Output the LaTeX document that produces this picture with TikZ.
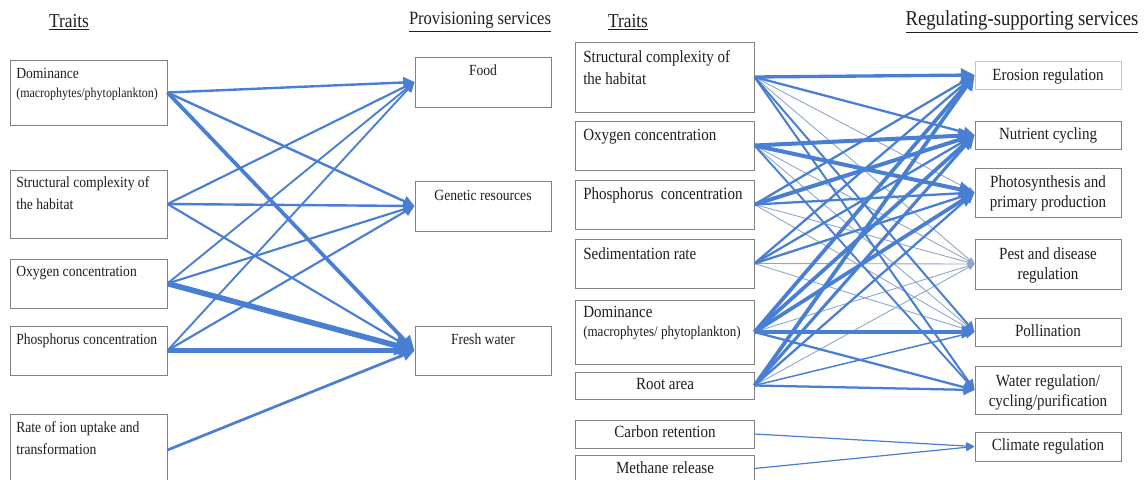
\documentclass[tikz,border=0pt]{standalone}
\usepackage{fontspec}
\setmainfont{Liberation Serif}[FakeStretch=0.88]
\usetikzlibrary{arrows.meta,fit}
\definecolor{lb}{RGB}{72,127,210}
\definecolor{lbthin}{RGB}{140,165,202}
\definecolor{boxgray}{RGB}{130,130,130}
\definecolor{lightbox}{RGB}{185,200,220}
\definecolor{txtc}{RGB}{30,30,30}
\tikzset{
  box/.style={draw=boxgray, line width=0.7pt, inner sep=0pt},
  lt/.style={anchor=north west, align=left, inner sep=0pt, text=txtc, font=\fontsize{11.6}{16.5}\selectfont},
  lsm/.style={anchor=north west, inner sep=0pt, text=txtc, font=\fontsize{10.2}{10}\selectfont},
  ct/.style={anchor=north, align=center, inner sep=0pt, text=txtc, font=\fontsize{11.6}{15}\selectfont},
  rlt/.style={anchor=north west, align=left, inner sep=0pt, text=txtc, font=\fontsize{12.8}{16.5}\selectfont},
  rsm/.style={anchor=north west, inner sep=0pt, text=txtc, font=\fontsize{11.1}{11}\selectfont},
  rct/.style={anchor=north, align=center, inner sep=0pt, text=txtc, font=\fontsize{12.8}{15}\selectfont},
  ttl/.style={inner sep=0pt, text=txtc},
  cn/.style={draw=lb, line width=#1, -{Triangle[length=4pt 2.5, width=3.5pt 2.5]}},
  th/.style={draw=lbthin, line width=0.65pt, -{Triangle[length=5pt, width=4.5pt]}},
}
\begin{document}
\begin{tikzpicture}[x=0.75pt,y=-0.75pt]
\useasboundingbox (0,0) rectangle (1146,479);
\clip (0,0) rectangle (1146,479);
\fill[white] (0,0) rectangle (1146,479);

% titles
\node[ttl, font=\fontsize{14.8}{17}\selectfont] (tA) at (69,22) {\underline{Traits}};
\node[ttl, font=\fontsize{14.1}{17}\selectfont] (tB) at (480,22) {\underline{Provisioning services}};
\node[ttl, font=\fontsize{14.8}{17}\selectfont] (tC) at (628,22) {\underline{Traits}};
\node[ttl, font=\fontsize{15.9}{18}\selectfont] (tD) at (1022,22) {\underline{Regulating-supporting services}};

% left panel boxes
\node[box, fit={(10,60) (167,125)}] (aDom) {};
\node[box, fit={(10,170) (167,238)}] (aStr) {};
\node[box, fit={(10,259) (167,308)}] (aOxy) {};
\node[box, fit={(10,326) (167,375)}] (aPho) {};
\node[box, fit={(10,414) (167,486)}] (aRat) {};
\node[box, fit={(415,57) (551,107)}] (aFood) {};
\node[box, fit={(415,181) (551,231)}] (aGen) {};
\node[box, fit={(415,326) (551,375)}] (aFre) {};

\node[lt] (aDomT) at (16,68) {Dominance};
\node[lsm] (aDomS) at (16,88) {(macrophytes/phytoplankton)};
\node[lt] (aStrT) at (16,176) {Structural complexity of\\the habitat};
\node[lt] (aOxyT) at (16,266) {Oxygen concentration};
\node[lt] (aPhoT) at (16,333) {Phosphorus concentration};
\node[lt] (aRatT) at (16,421) {Rate of ion uptake and\\transformation};
\node[ct] (aFoodT) at (483,64) {Food};
\node[ct] (aGenT) at (483,190) {Genetic resources};
\node[ct] (aFreT) at (483,333) {Fresh water};

% left panel connectors
\draw[cn=1.4pt] (aOxy.east) -- (aFood.west);
\draw[cn=1.4pt] (aPho.east) -- (aFood.west);
\draw[cn=1.6pt] (aStr.east) -- (aFood.west);
\draw[cn=1.8pt] (aDom.east) -- (aFood.west);
\draw[cn=1.8pt] (aDom.east) -- (aGen.west);
\draw[cn=1.8pt] (aStr.east) -- (aGen.west);
\draw[cn=1.6pt] (aOxy.east) -- (aGen.west);
\draw[cn=1.6pt] (aPho.east) -- (aGen.west);
\draw[cn=1.6pt] (aStr.east) -- (aFre.west);
\draw[cn=2.0pt] (aRat.east) -- (aFre.west);
\draw[cn=2.8pt] (aDom.east) -- (aFre.west);
\draw[cn=3.2pt] (aPho.east) -- (aFre.west);
\draw[cn=4.2pt] (aOxy.east) -- (aFre.west);

% right panel boxes
\node[box, fit={(575,42) (754,112)}] (bStr) {};
\node[box, fit={(575,121) (754,170)}] (bOxy) {};
\node[box, fit={(575,180) (754,229)}] (bPho) {};
\node[box, fit={(575,239) (754,288)}] (bSed) {};
\node[box, fit={(575,300) (754,364)}] (bDom) {};
\node[box, fit={(575,372) (754,399)}] (bRoot) {};
\node[box, fit={(575,420) (754,448)}] (bCar) {};
\node[box, fit={(575,455) (754,482)}] (bMet) {};
\node[box, draw=lightbox, fit={(975,61) (1121,89)}] (bEro) {};
\node[box, fit={(975,121) (1121,149)}] (bNut) {};
\node[box, fit={(975,168) (1121,217)}] (bPhs) {};
\node[box, fit={(975,239) (1121,289)}] (bPest) {};
\node[box, fit={(975,318) (1121,346)}] (bPol) {};
\node[box, fit={(975,366) (1121,414)}] (bWat) {};
\node[box, fit={(975,432) (1121,461)}] (bCli) {};

\node[rlt] (bStrT) at (583,50) {Structural complexity of\\the habitat};
\node[rlt] (bOxyT) at (583,129) {Oxygen concentration};
\node[rlt] (bPhoT) at (583,187) {Phosphorus\ \ concentration};
\node[rlt] (bSedT) at (583,247) {Sedimentation rate};
\node[rlt] (bDomT) at (583,306) {Dominance};
\node[rsm] (bDomS) at (583,326) {(macrophytes/ phytoplankton)};
\node[rct] (bRootT) at (665,378) {Root area};
\node[rct] (bCarT) at (665,425) {Carbon retention};
\node[rct] (bMetT) at (665,461) {Methane release};
\node[rct] (bEroT) at (1048,68) {Erosion regulation};
\node[rct] (bNutT) at (1048,127) {Nutrient cycling};
\node[rct] (bPhsT) at (1048,175) {Photosynthesis and\\primary production};
\node[rct] (bPestT) at (1048,247) {Pest and disease\\regulation};
\node[rct] (bPolT) at (1048,324) {Pollination};
\node[rct] (bWatT) at (1048,374) {Water regulation/\\cycling/purification};
\node[rct] (bCliT) at (1048,438) {Climate regulation};

% right panel connectors: thin
\draw[th] (bStr.east) -- (bPhs.west);
\draw[th] (bStr.east) -- (bPest.west);
\draw[th] (bOxy.east) -- (bPest.west);
\draw[th] (bOxy.east) -- (bPol.west);
\draw[th] (bPho.east) -- (bPest.west);
\draw[th] (bPho.east) -- (bPol.west);
\draw[th] (bSed.east) -- (bPest.west);
\draw[th] (bSed.east) -- (bPol.west);
\draw[th] (bDom.east) -- (bPest.west);
\draw[th] (bRoot.east) -- (bPest.west);
% medium / thick
\draw[cn=1.1pt] (bRoot.east) -- (bPol.west);
\draw[cn=1.5pt] (bStr.east) -- (bPol.west);
\draw[cn=1.5pt] (bStr.east) -- (bWat.west);
\draw[cn=1.4pt] (bOxy.east) -- (bWat.west);
\draw[cn=1.7pt] (bStr.east) -- (bNut.west);
\draw[cn=1.7pt] (bPho.east) -- (bEro.west);
\draw[cn=1.7pt] (bPho.east) -- (bPhs.west);
\draw[cn=1.7pt] (bSed.east) -- (bEro.west);
\draw[cn=1.7pt] (bSed.east) -- (bNut.west);
\draw[cn=1.7pt] (bSed.east) -- (bPhs.west);
\draw[cn=1.7pt] (bDom.east) -- (bWat.west);
\draw[cn=1.7pt] (bRoot.east) -- (bPhs.west);
\draw[cn=1.7pt] (bRoot.east) -- (bWat.west);
\draw[cn=2.3pt] (bRoot.east) -- (bNut.west);
\draw[cn=2.3pt] (bDom.east) -- (bPol.west);
\draw[cn=2.5pt] (bStr.east) -- (bEro.west);
\draw[cn=2.8pt] (bDom.east) -- (bEro.west);
\draw[cn=2.8pt] (bDom.east) -- (bNut.west);
\draw[cn=2.8pt] (bDom.east) -- (bPhs.west);
\draw[cn=2.8pt] (bRoot.east) -- (bEro.west);
\draw[cn=3.0pt] (bOxy.east) -- (bNut.west);
\draw[cn=3.0pt] (bOxy.east) -- (bPhs.west);
\draw[cn=3.0pt] (bPho.east) -- (bNut.west);
% climate
\draw[cn=0.9pt] (bCar.east) -- (bCli.west);
\draw[cn=0.9pt] (bMet.east) -- (bCli.west);
\end{tikzpicture}
\end{document}
